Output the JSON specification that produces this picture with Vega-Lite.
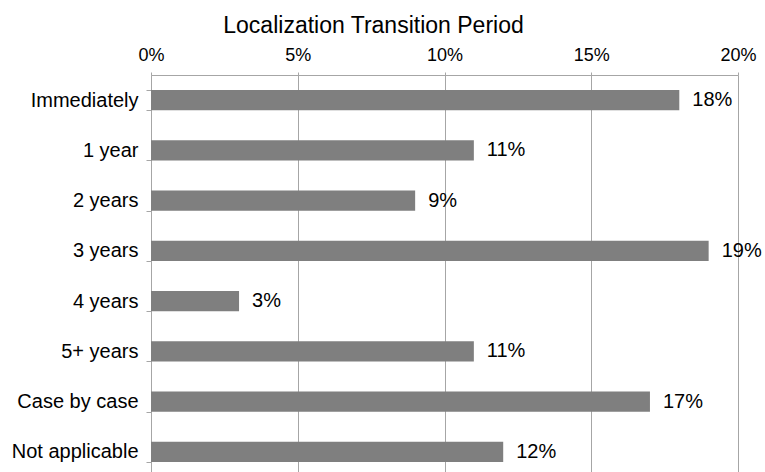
{
  "$schema": "https://vega.github.io/schema/vega-lite/v6.json",
  "width": 587,
  "height": 402,
  "autosize": {"type": "none"},
  "padding": {"left": 151, "top": 75, "right": 27, "bottom": 0},
  "background": "white",
  "title": {
    "text": "Localization Transition Period",
    "font": "Liberation Sans",
    "fontSize": 23,
    "fontWeight": "normal",
    "color": "black",
    "anchor": "middle",
    "dx": -71,
    "offset": 8
  },
  "data": {
    "values": [
      {"period": "Immediately", "share": 0.18},
      {"period": "1 year", "share": 0.11},
      {"period": "2 years", "share": 0.09},
      {"period": "3 years", "share": 0.19},
      {"period": "4 years", "share": 0.03},
      {"period": "5+ years", "share": 0.11},
      {"period": "Case by case", "share": 0.17},
      {"period": "Not applicable", "share": 0.12}
    ]
  },
  "config": {
    "view": {"stroke": null},
    "font": "Liberation Sans"
  },
  "encoding": {
    "y": {
      "field": "period",
      "type": "nominal",
      "sort": null,
      "title": null,
      "scale": {"paddingInner": 0.6, "paddingOuter": 0.3},
      "axis": {
        "orient": "left",
        "tickBand": "extent",
        "domainColor": "#a6a6a6",
        "tickColor": "#a6a6a6",
        "tickSize": 5,
        "labelFont": "Liberation Sans",
        "labelFontSize": 20,
        "labelColor": "black",
        "labelPadding": 8,
        "grid": false
      }
    },
    "x": {
      "field": "share",
      "type": "quantitative",
      "title": null,
      "scale": {"domain": [0, 0.2], "nice": false},
      "axis": {
        "orient": "top",
        "format": ".0%",
        "values": [0, 0.05, 0.1, 0.15, 0.2],
        "grid": true,
        "gridColor": "#a6a6a6",
        "domainColor": "#a6a6a6",
        "tickColor": "#a6a6a6",
        "tickSize": 3,
        "labelFlush": false,
        "labelFont": "Liberation Sans",
        "labelFontSize": 18,
        "labelColor": "black",
        "labelPadding": 8
      }
    }
  },
  "layer": [
    {"mark": {"type": "bar", "color": "#7f7f7f"}},
    {
      "mark": {"type": "text", "align": "left", "dx": 13, "fontSize": 20, "font": "Liberation Sans", "color": "black"},
      "encoding": {"text": {"field": "share", "type": "quantitative", "format": ".0%"}}
    }
  ]
}
